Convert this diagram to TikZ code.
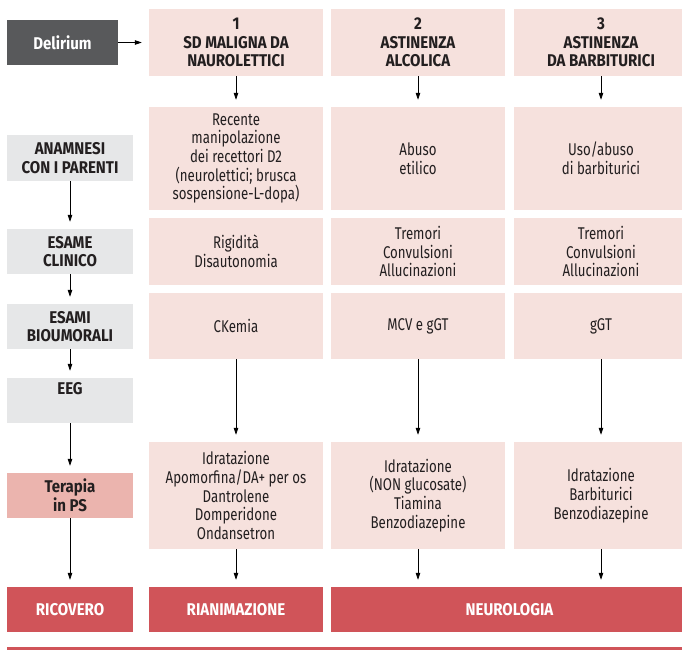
\documentclass[tikz,border=0pt]{standalone}
\usepackage{fontspec}
\setmainfont[FakeStretch=0.78,BoldFeatures={FakeStretch=0.885}]{Fira Sans}
\usetikzlibrary{arrows.meta}
\definecolor{pinkc}{HTML}{F6E1DD}
\definecolor{grayc}{HTML}{E6E7E8}
\definecolor{darkc}{HTML}{58595B}
\definecolor{therc}{HTML}{EBB4AE}
\definecolor{redc}{HTML}{D05459}
\definecolor{txtc}{HTML}{231F20}
\begin{document}
\begin{tikzpicture}[x=1pt,y=-1pt,
  base/.style={inner sep=0pt, align=center, text=txtc,
    font=\fontsize{17}{18.7}\selectfont},
  cell/.style={base, fill=pinkc},
  head/.style={cell, font=\fontsize{17}{18.7}\selectfont\bfseries},
  lab/.style={base, fill=grayc, minimum width=126pt,
    font=\fontsize{17}{18.7}\selectfont\bfseries},
  dest/.style={base, fill=redc, text=white, minimum height=45pt,
    font=\fontsize{17}{18.7}\selectfont\bfseries},
  flow/.style={draw=black, line width=0.8pt,
    -{Triangle[length=7pt,width=4.5pt]}, shorten >=7pt}]
\useasboundingbox (0,0) rectangle (682,650);
\clip (0,0) rectangle (682,650);

% start box
\node[base, fill=darkc, text=white, minimum width=111pt, minimum height=45pt,
  font=\fontsize{17}{18.7}\selectfont\bfseries] (del) at (62.5,42.5) {Delirium};

% column headers
\node[head, minimum width=174pt, minimum height=67pt] (h1) at (236,42.5)
  {1\\SD MALIGNA DA\\NAUROLETTICI};
\node[head, minimum width=174pt, minimum height=67pt] (h2) at (418,42.5)
  {2\\ASTINENZA\\ALCOLICA};
\node[head, minimum width=174pt, minimum height=67pt] (h3) at (601,42.5)
  {3\\ASTINENZA\\DA BARBITURICI};

% row labels
\node[lab, minimum height=46pt] (l1) at (70,158) {ANAMNESI\\CON I PARENTI};
\node[lab, minimum height=45pt] (l2) at (70,251.5) {ESAME\\CLINICO};
\node[lab, minimum height=45pt] (l3) at (70,326.5) {ESAMI\\BIOUMORALI};
\node[lab, minimum height=45pt] (l4) at (70,400.5) {EEG\\\strut};
\node[lab, fill=therc, minimum height=45pt] (l5) at (70,495.5) {Terapia\\in PS};
\node[dest, minimum width=126pt] (l6) at (70,609.5) {RICOVERO};

% anamnesi
\node[cell, minimum width=174pt, minimum height=103pt] (a1) at (236,158.5)
  {Recente\\manipolazione\\dei recettori D2\\(neurolettici; brusca\\sospensione-L-dopa)};
\node[cell, minimum width=174pt, minimum height=103pt] (a2) at (418,158.5)
  {Abuso\\etilico};
\node[cell, minimum width=174pt, minimum height=103pt] (a3) at (601,158.5)
  {Uso/abuso\\di barbiturici};

% esame clinico
\node[cell, minimum width=174pt, minimum height=67pt] (c1) at (236,251.5)
  {Rigidità\\Disautonomia};
\node[cell, minimum width=174pt, minimum height=67pt] (c2) at (418,251.5)
  {Tremori\\Convulsioni\\Allucinazioni};
\node[cell, minimum width=174pt, minimum height=67pt] (c3) at (601,251.5)
  {Tremori\\Convulsioni\\Allucinazioni};

% esami bioumorali
\node[cell, minimum width=174pt, minimum height=66pt] (b1) at (236,326) {CKemia};
\node[cell, minimum width=174pt, minimum height=66pt] (b2) at (418,326) {MCV e gGT};
\node[cell, minimum width=174pt, minimum height=66pt] (b3) at (601,326) {gGT};

% terapia
\node[cell, minimum width=174pt, minimum height=107pt] (t1) at (236,495.5)
  {Idratazione\\Apomorfina/DA+ per os\\Dantrolene\\Domperidone\\Ondansetron};
\node[cell, minimum width=174pt, minimum height=107pt] (t2) at (418,495.5)
  {Idratazione\\(NON glucosate)\\Tiamina\\Benzodiazepine};
\node[cell, minimum width=174pt, minimum height=107pt] (t3) at (601,495.5)
  {Idratazione\\Barbiturici\\Benzodiazepine};

% destinations
\node[dest, minimum width=174pt] (r1) at (236,609.5) {RIANIMAZIONE};
\node[dest, minimum width=357pt] (r2) at (509.5,609.5) {NEUROLOGIA};

% rule at the foot
\fill[redc] (7,646.5) rectangle (682,650);

% connectors
\draw[flow] (del.east) -- (h1.west);
\draw[flow] (h1) -- (a1);
\draw[flow] (h2) -- (a2);
\draw[flow] (h3) -- (a3);
\draw[flow] (b1) -- (t1);
\draw[flow] (b2) -- (t2);
\draw[flow] (b3) -- (t3);
\draw[flow] (t1) -- (r1);
\draw[flow] (t2.south) -- (t2.south |- r2.north);
\draw[flow] (t3.south) -- (t3.south |- r2.north);
\draw[flow] (l1) -- (l2);
\draw[flow] (l2) -- (l3);
\draw[flow] (l3) -- (l4);
\draw[flow] (l4) -- (l5);
\draw[flow] (l5) -- (l6);
\end{tikzpicture}
\end{document}
